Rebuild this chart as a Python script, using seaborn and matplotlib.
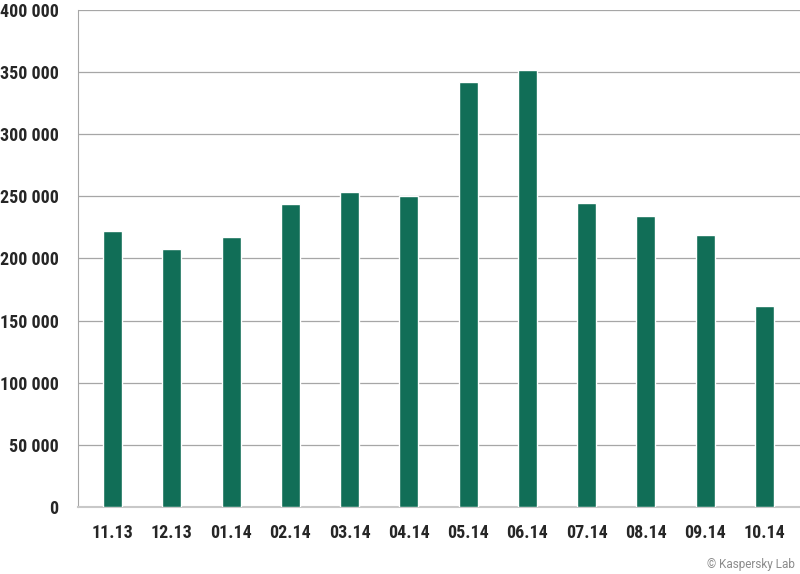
import numpy as np
import pandas as pd
import matplotlib
matplotlib.use("Agg")
import matplotlib.pyplot as plt
import seaborn as sns

months = ["11.13", "12.13", "01.14", "02.14", "03.14", "04.14",
          "05.14", "06.14", "07.14", "08.14", "09.14", "10.14"]
values = [222000, 208000, 217500, 243500, 253500, 250000,
          342000, 351500, 244500, 234500, 218500, 162000]
y_ticks = [0, 50000, 100000, 150000, 200000, 250000, 300000, 350000, 400000]

sns.set_style("white")
plt.rcParams["font.family"] = ["Roboto Condensed", "Liberation Sans", "DejaVu Sans"]

df = pd.DataFrame({"month": months, "value": values})

fig = plt.figure(figsize=(8, 5.74), dpi=100)
ax = fig.add_axes([0.0975, 0.1167, 0.9025, 0.866])
sns.barplot(data=df, x="month", y="value", color="#116E57", saturation=1,
            width=0.32, ax=ax, zorder=3)

ax.set_ylim(0, 400000)
ax.set_xlim(-0.584, 11.6)
ax.set_yticks(y_ticks)
ax.set_yticklabels([f"{v:,}".replace(",", " ") for v in y_ticks])
ax.grid(axis="y", color="#a6a6a6", linewidth=0.9, zorder=0)
ax.set_xlabel("")
ax.set_ylabel("")
for s in ["top", "right"]:
    ax.spines[s].set_visible(False)
ax.spines["left"].set_color("#a6a6a6")
ax.spines["bottom"].set_color("#c8c8c8")
ax.spines["bottom"].set_linewidth(1.5)
ax.tick_params(axis="both", length=0, labelsize=13)
ax.tick_params(axis="y", pad=14)
ax.tick_params(axis="x", pad=12)
for lbl in ax.get_xticklabels() + ax.get_yticklabels():
    lbl.set_fontweight("bold")

fig.text(0.993, 0.006, "© Kaspersky Lab", ha="right", va="bottom",
         fontsize=8.5, color="#8c8c8c", family=["Roboto", "DejaVu Sans"])

fig.savefig("out.png", dpi=100)
